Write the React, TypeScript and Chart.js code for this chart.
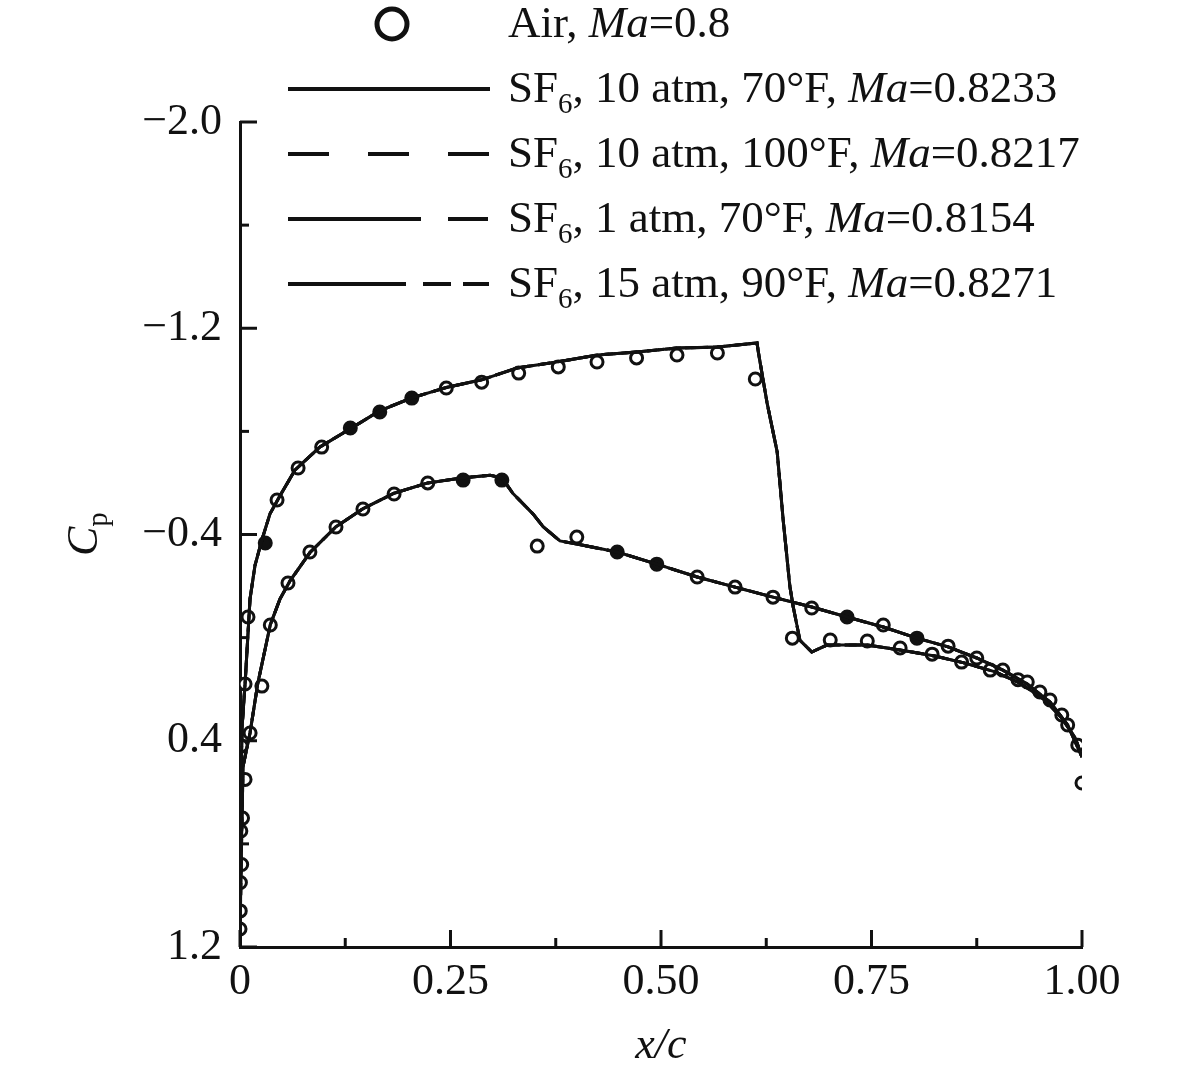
import { useEffect, useRef } from "react";
import { Chart, registerables } from "chart.js";

Chart.register(...registerables);

// Air, Ma=0.8 (open circles)
const airUpperX = [0, 0.0005, 0.001, 0.0015, 0.006, 0.0095, 0.03, 0.044, 0.069, 0.097, 0.131, 0.166, 0.204, 0.245, 0.287, 0.331, 0.378, 0.424, 0.471, 0.519, 0.567, 0.612, 0.656, 0.701, 0.745, 0.784, 0.822, 0.857, 0.891, 0.924, 0.95, 0.976, 0.995];
const airUpperCp = [1.13, 0.95, 0.75, 0.42, 0.18, -0.08, -0.367, -0.534, -0.658, -0.739, -0.813, -0.875, -0.929, -0.968, -0.991, -1.026, -1.05, -1.069, -1.085, -1.096, -1.104, -1.003, 0.002, 0.009, 0.013, 0.04, 0.064, 0.095, 0.126, 0.163, 0.211, 0.3, 0.417];
const airLowerX = [0.0003, 0.002, 0.003, 0.006, 0.012, 0.026, 0.036, 0.057, 0.083, 0.114, 0.146, 0.183, 0.223, 0.265, 0.311, 0.353, 0.4, 0.448, 0.495, 0.543, 0.588, 0.633, 0.679, 0.721, 0.764, 0.804, 0.841, 0.875, 0.906, 0.935, 0.962, 0.983, 1.0];
const airLowerCp = [1.06, 0.88, 0.7, 0.55, 0.37, 0.188, -0.049, -0.212, -0.332, -0.429, -0.499, -0.557, -0.6, -0.611, -0.611, -0.355, -0.39, -0.332, -0.285, -0.235, -0.196, -0.157, -0.115, -0.08, -0.049, 0.002, 0.033, 0.079, 0.126, 0.172, 0.242, 0.339, 0.564];

// SF6 curves: the four runs lie on top of each other in the figure,
// so they share the same traced values
const sf6UpperX = [0, 0.0006, 0.0024, 0.006, 0.0119, 0.0178, 0.0261, 0.0356, 0.0475, 0.0653, 0.095, 0.131, 0.166, 0.204, 0.245, 0.287, 0.329, 0.376, 0.424, 0.471, 0.519, 0.567, 0.614, 0.616, 0.626, 0.638, 0.645, 0.653, 0.657, 0.665, 0.679, 0.697, 0.745, 0.784, 0.825, 0.861, 0.897, 0.926, 0.956, 0.976, 0.992, 1.0];
const sf6UpperCp = [1.17, 0.7, 0.35, 0.18, -0.15, -0.28, -0.38, -0.48, -0.55, -0.65, -0.74, -0.81, -0.88, -0.93, -0.97, -1.0, -1.046, -1.069, -1.096, -1.108, -1.123, -1.127, -1.143, -1.1, -0.91, -0.72, -0.46, -0.2, -0.12, 0.01, 0.056, 0.029, 0.029, 0.048, 0.071, 0.099, 0.133, 0.176, 0.242, 0.312, 0.389, 0.463];
const sf6LowerX = [0, 0.0012, 0.0036, 0.0119, 0.021, 0.036, 0.0475, 0.0594, 0.0831, 0.114, 0.146, 0.183, 0.223, 0.265, 0.297, 0.311, 0.324, 0.348, 0.36, 0.38, 0.4, 0.448, 0.495, 0.543, 0.588, 0.633, 0.679, 0.721, 0.764, 0.804, 0.841, 0.875, 0.906, 0.935, 0.962, 0.983, 1.0];
const sf6LowerCp = [1.17, 0.9, 0.5, 0.37, 0.18, -0.05, -0.15, -0.22, -0.33, -0.43, -0.5, -0.56, -0.6, -0.62, -0.63, -0.62, -0.56, -0.48, -0.43, -0.375, -0.363, -0.332, -0.285, -0.235, -0.196, -0.157, -0.119, -0.08, -0.041, 0.002, 0.036, 0.079, 0.126, 0.18, 0.25, 0.339, 0.463];

const sf6Conditions = ["10 atm, 70°F", "10 atm, 100°F", "1 atm, 70°F", "15 atm, 90°F"];
const sf6Mach = ["0.8233", "0.8217", "0.8154", "0.8271"];

const xTicks = [0, 0.25, 0.5, 0.75, 1.0];

const SERIF = "'Liberation Serif', 'Times New Roman', serif";
const INK = "#111";

// circles that print solid black in the scan
const filledUpper = [6, 10, 11, 12];
const filledLower = [13, 14, 17, 18, 23, 25];

const chartDash = [[], [12, 10], [36, 8, 12, 8], [28, 5, 6, 5, 6, 5]];
const legendDash = ["", "41 39", "133 27 40 200", "118 17 28 12 26 200"];

const pts = (xs: number[], ys: number[]) => xs.map((x, i) => ({ x, y: ys[i] }));

const inwardTicks = {
  id: "inwardTicks",
  afterDraw(chart: any) {
    const { ctx, chartArea } = chart;
    const xs = chart.scales.x;
    const ys = chart.scales.y;
    const line = (x1: number, y1: number, x2: number, y2: number) => {
      ctx.beginPath();
      ctx.moveTo(x1, y1);
      ctx.lineTo(x2, y2);
      ctx.stroke();
    };
    ctx.save();
    ctx.strokeStyle = INK;
    ctx.lineWidth = 3;
    const yv = ys.ticks.map((t: any) => t.value);
    yv.forEach((v: number, i: number) => {
      const p = ys.getPixelForValue(v);
      line(chartArea.left, p, chartArea.left + 17, p);
      if (i < yv.length - 1) {
        const m = ys.getPixelForValue((v + yv[i + 1]) / 2);
        line(chartArea.left, m, chartArea.left + 9, m);
      }
    });
    const xv = xs.ticks.map((t: any) => t.value);
    xv.forEach((v: number, i: number) => {
      const p = xs.getPixelForValue(v);
      line(p, chartArea.bottom, p, chartArea.bottom - 17);
      if (i < xv.length - 1) {
        const m = xs.getPixelForValue((v + xv[i + 1]) / 2);
        line(m, chartArea.bottom, m, chartArea.bottom - 9);
      }
    });
    ctx.restore();
  },
};

export default function App() {
  const canvasRef = useRef<HTMLCanvasElement>(null);
  const chartRef = useRef<Chart | null>(null);

  useEffect(() => {
    if (!canvasRef.current) return;
    if (chartRef.current) chartRef.current.destroy();

    const sf6Sets: any[] = [];
    sf6Conditions.forEach((c, k) => {
      [pts(sf6UpperX, sf6UpperCp), pts(sf6LowerX, sf6LowerCp)].forEach((data, s) => {
        sf6Sets.push({
          label: `SF6, ${c}, Ma=${sf6Mach[k]}${s ? " (lower)" : " (upper)"}`,
          data,
          showLine: true,
          borderColor: INK,
          borderWidth: 3,
          borderDash: chartDash[k],
          pointRadius: 0,
          tension: 0,
        });
      });
    });

    const airData = [...pts(airUpperX, airUpperCp), ...pts(airLowerX, airLowerCp)];
    const airFill = airData.map((_, i) =>
      (i < airUpperX.length ? filledUpper.includes(i) : filledLower.includes(i - airUpperX.length)) ? INK : "#fff"
    );

    chartRef.current = new Chart(canvasRef.current, {
      type: "scatter",
      data: {
        datasets: [
          ...sf6Sets,
          {
            label: "Air, Ma=0.8",
            data: airData,
            showLine: false,
            pointRadius: 6,
            pointBorderWidth: 3,
            pointBorderColor: INK,
            pointBackgroundColor: airFill,
          },
        ],
      },
      options: {
        animation: false,
        responsive: true,
        maintainAspectRatio: false,
        layout: { padding: { top: 122, right: 99, left: 0, bottom: 0 } },
        plugins: { legend: { display: false }, tooltip: { enabled: false } },
        scales: {
          x: {
            type: "linear",
            min: 0,
            max: 1,
            afterBuildTicks: (s: any) => {
              s.ticks = xTicks.map((value) => ({ value }));
            },
            ticks: {
              padding: 9,
              color: INK,
              font: { family: SERIF, size: 44 },
              maxRotation: 0,
              callback: (v: any) => (Number(v) === 0 ? "0" : Number(v).toFixed(2)),
            },
            grid: { display: false, drawTicks: false, tickLength: 0 },
            border: { display: true, color: INK, width: 3 },
            afterFit: (s: any) => {
              s.height = 128;
            },
          },
          y: {
            type: "linear",
            min: -2,
            max: 1.2,
            reverse: true,
            ticks: {
              stepSize: 0.8,
              padding: 18,
              color: INK,
              font: { family: SERIF, size: 44 },
              callback: (v: any) => {
                const n = Number(v);
                const s = Math.abs(n).toFixed(1);
                return n < -1e-9 ? "\u2212" + s : s;
              },
            },
            grid: { display: false, drawTicks: false, tickLength: 0 },
            border: { display: true, color: INK, width: 3 },
            afterFit: (s: any) => {
              s.width = 240;
            },
          },
        },
      },
      plugins: [inwardTicks],
    });

    return () => {
      if (chartRef.current) chartRef.current.destroy();
      chartRef.current = null;
    };
  }, []);

  const rowBase = [102, 167, 232, 297];

  return (
    <div style={{ position: "absolute", left: 0, top: 0, width: 1181, height: 1075, background: "#fff" }}>
      <canvas ref={canvasRef} />
      <svg
        width={1181}
        height={1075}
        style={{ position: "absolute", left: 0, top: 0, pointerEvents: "none" }}
        fontFamily={SERIF}
        fill={INK}
      >
        <circle cx={392} cy={24} r={15} fill="none" stroke={INK} strokeWidth={5} />
        <text x={508} y={37} fontSize={45}>
          {"Air, "}
          <tspan fontStyle="italic">Ma</tspan>
          {"=0.8"}
        </text>
        {sf6Conditions.map((c, k) => (
          <g key={c}>
            <line
              x1={288}
              x2={490}
              y1={rowBase[k] - 13}
              y2={rowBase[k] - 13}
              stroke={INK}
              strokeWidth={4}
              strokeDasharray={legendDash[k] || undefined}
            />
            <text x={508} y={rowBase[k]} fontSize={45}>
              {"SF"}
              <tspan fontSize={29} dy={11}>6</tspan>
              <tspan dy={-11}>{`, ${c}, `}</tspan>
              <tspan fontStyle="italic">Ma</tspan>
              {`=${sf6Mach[k]}`}
            </text>
          </g>
        ))}
        <text transform="translate(97,556) rotate(-90)" fontSize={44}>
          <tspan fontStyle="italic">C</tspan>
          <tspan fontSize={29} dy={10}>p</tspan>
        </text>
        <text x={661} y={1058} fontSize={44} fontStyle="italic" textAnchor="middle">
          x/c
        </text>
      </svg>
    </div>
  );
}
